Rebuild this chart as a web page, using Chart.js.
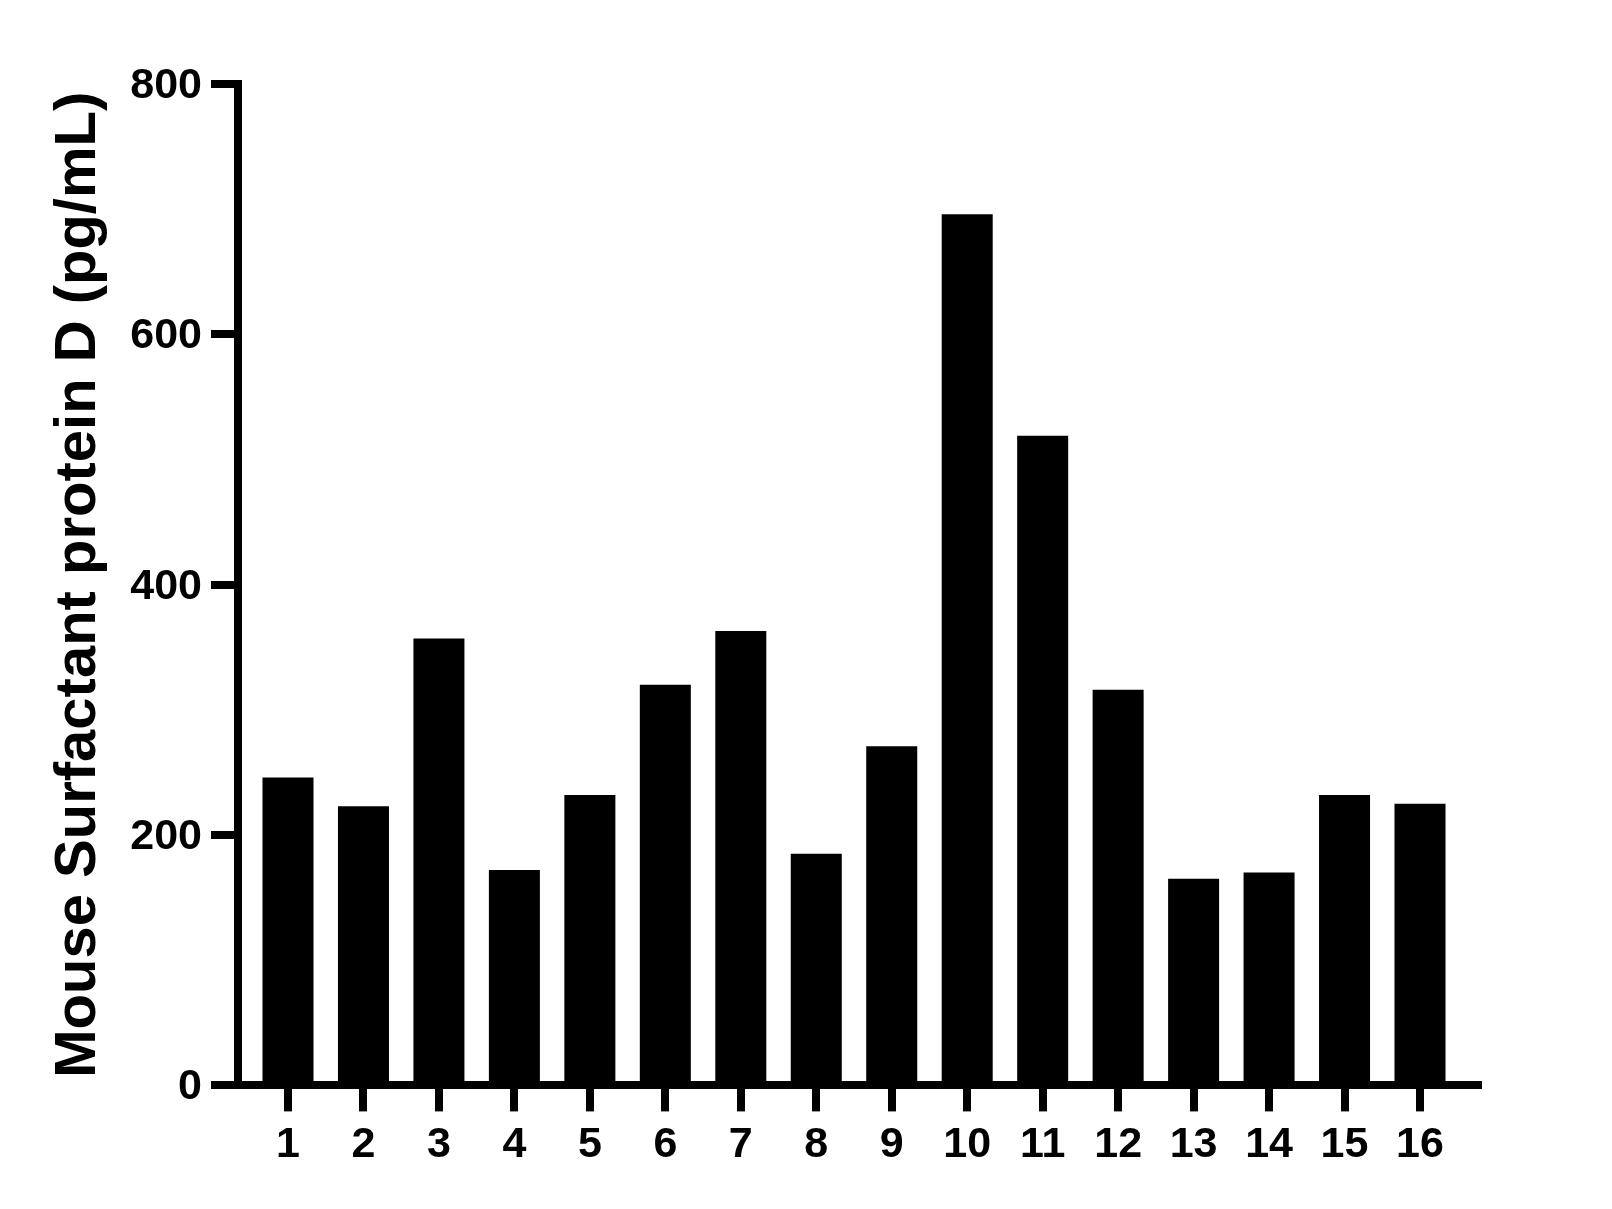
<!DOCTYPE html>
<html>
<head>
<meta charset="utf-8">
<script src="https://cdn.jsdelivr.net/npm/chart.js@4"></script>
<style>
  html, body { margin: 0; padding: 0; background: #fff; }
  #wrap { width: 1612px; height: 1209px; position: relative; }
</style>
</head>
<body>
<div id="wrap"><canvas id="c" width="1612" height="1209"></canvas></div>
<script>
const categories = ['1','2','3','4','5','6','7','8','9','10','11','12','13','14','15','16'];
const values = [246, 223, 357, 172, 232, 320, 363, 185, 271, 696, 519, 316, 165, 170, 232, 225];
const yTicks = [0, 200, 400, 600, 800];
const yTitle = 'Mouse Surfactant protein D (pg/mL)';

const FONT = "'Liberation Sans', Arial, Helvetica, sans-serif";

const points = values.map((v, i) => ({ x: i + 1, y: v }));

new Chart(document.getElementById('c'), {
  type: 'bar',
  data: {
    datasets: [{
      data: points,
      backgroundColor: '#000',
      borderWidth: 0,
      categoryPercentage: 1,
      barPercentage: 0.676
    }]
  },
  options: {
    responsive: false,
    animation: false,
    devicePixelRatio: 1,
    layout: { padding: { top: 84, right: 134, bottom: 30, left: 0 } },
    plugins: { legend: { display: false }, tooltip: { enabled: false } },
    scales: {
      x: {
        type: 'linear',
        min: 0.3375,
        max: 16.7685,
        offset: false,
        afterBuildTicks: (s) => { s.ticks = categories.map((c, i) => ({ value: i + 1 })); },
        ticks: {
          autoSkip: false,
          maxRotation: 0,
          padding: 8,
          color: '#000',
          font: { family: FONT, size: 43, weight: 'bold' },
          callback: (v) => categories[Math.round(v) - 1]
        },
        grid: { offset: false, drawOnChartArea: false, drawTicks: true, tickLength: 26, lineWidth: 8, color: '#000' },
        border: { display: true, width: 8, color: '#000' }
      },
      y: {
        min: 0,
        max: 800,
        afterBuildTicks: (s) => { s.ticks = yTicks.map(v => ({ value: v })); },
        afterFit: (s) => { s.width = 238; },
        ticks: {
          padding: 9,
          labelOffset: 2,
          color: '#000',
          font: { family: FONT, size: 43, weight: 'bold' }
        },
        grid: { offset: false, drawOnChartArea: false, drawTicks: true, tickLength: 27, lineWidth: 8, color: '#000' },
        border: { display: true, width: 8, color: '#000' },
        title: {
          display: true,
          text: yTitle,
          color: '#000',
          font: { family: FONT, size: 58, weight: 'bold' },
          padding: { top: 44, bottom: 0 }
        }
      }
    }
  }
});
</script>
</body>
</html>
